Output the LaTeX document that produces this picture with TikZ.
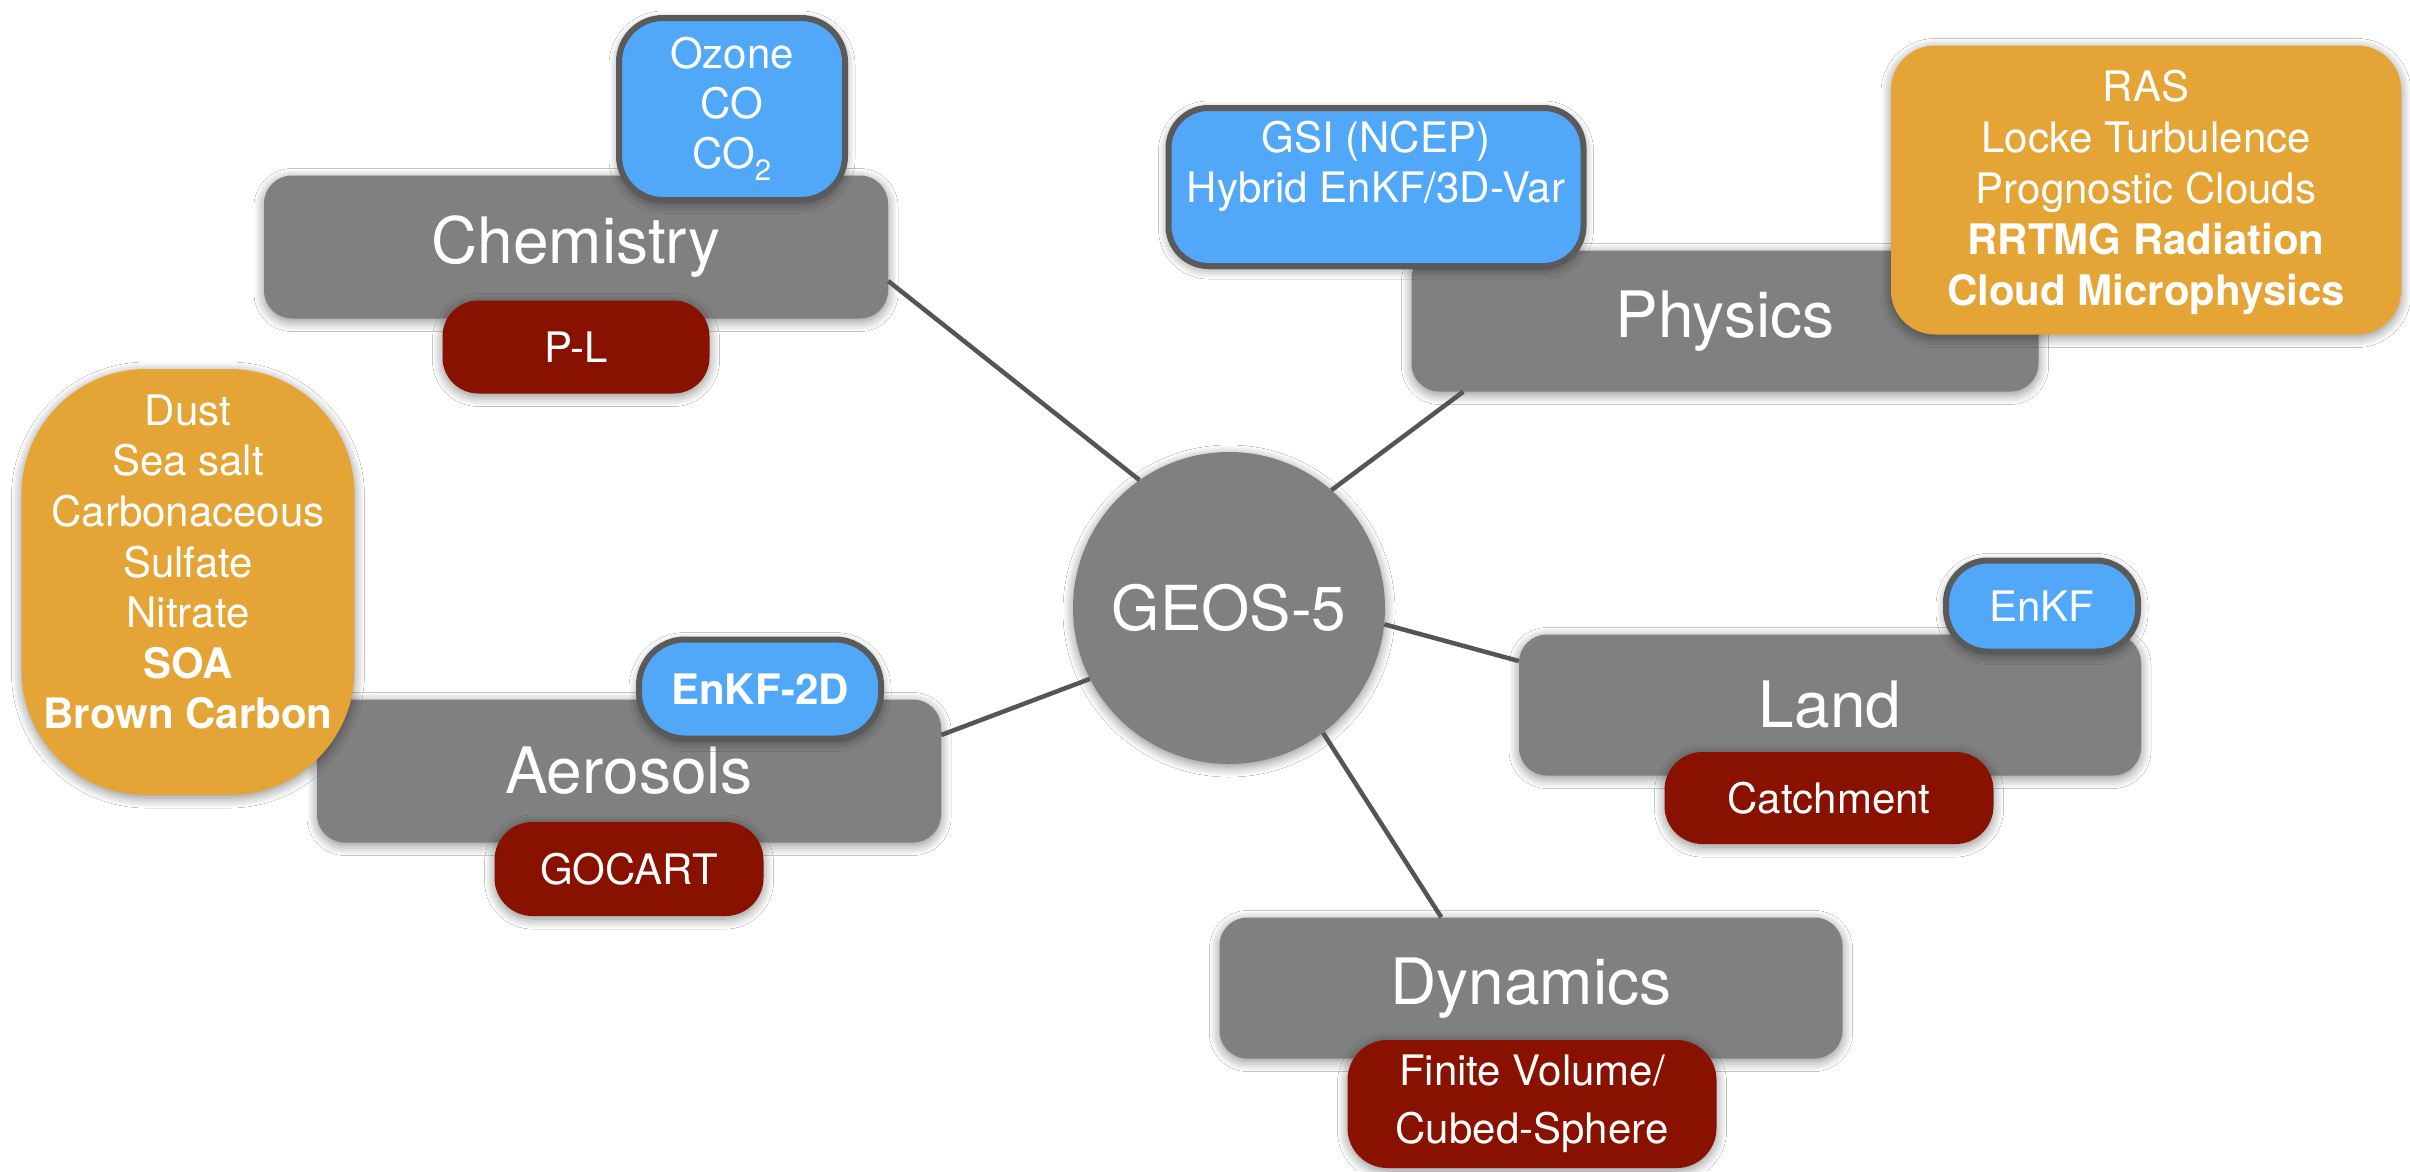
\documentclass[tikz,border=0pt]{standalone}
\usepackage{fontspec}
\setmainfont{TeX Gyre Heros}
\usetikzlibrary{shadows.blur}
\definecolor{boxgray}{HTML}{808080}
\definecolor{skyblue}{HTML}{52A8F8}
\definecolor{darkred}{HTML}{881100}
\definecolor{amber}{HTML}{E5A536}
\definecolor{edgegray}{HTML}{5A5A5A}
\definecolor{linkgray}{HTML}{555555}
\tikzset{
  softshadow/.style={blur shadow={shadow blur steps=12, shadow blur radius=10pt, shadow xshift=0pt, shadow yshift=-3pt, shadow opacity=45}},
  module/.style={rectangle, rounded corners=28pt, fill=boxgray, text=white, inner sep=0pt, font=\fontsize{64}{72}\selectfont, softshadow},
  pill/.style={rectangle, text=white, inner sep=0pt, align=center, font=\fontsize{42}{50}\selectfont, softshadow},
  bluepill/.style={pill, fill=skyblue, draw=edgegray, line width=6pt},
  redpill/.style={pill, fill=darkred},
  amberpill/.style={pill, fill=amber},
  txt/.style={text=white, inner sep=0pt, align=center, font=\fontsize{42}{50}\selectfont},
  link/.style={draw=linkgray, line width=4.5pt}
}
\begin{document}
\begin{tikzpicture}[x=1pt,y=-1pt]
\useasboundingbox[fill=white] (0,0) rectangle (2410,1171);

% hub
\node[circle, fill=boxgray, text=white, inner sep=0pt, minimum size=312pt, font=\fontsize{62}{70}\selectfont, softshadow] (geos) at (1229,608) {GEOS-5};

% modules
\node[module, minimum width=624pt, minimum height=143pt] (chem) at (576,247) {Chemistry};
\node[module, minimum width=627pt, minimum height=141pt] (phys) at (1725,321) {Physics};
\node[module, minimum width=624pt, minimum height=143pt] (aero) at (629,771) {Aerosols};
\node[module, minimum width=622pt, minimum height=141pt] (land) at (1830,705) {Land};
\node[module, minimum width=623pt, minimum height=141pt] (dyn) at (1531,988) {Dynamics};

% connectors
\draw[link] ([yshift=-34pt]chem.east) -- (geos.125);
\draw[link] ([xshift=52pt]phys.south west) -- (geos.49);
\draw[link] ([yshift=36pt]aero.east) -- (geos.207);
\draw[link] ([yshift=44pt]land.west) -- (geos.354);
\draw[link] ([xshift=222pt]dyn.north west) -- (geos.307);

% chemistry
\node[bluepill, rounded corners=44pt, minimum width=226pt, minimum height=182pt] (ozone) at (732,109) {Ozone\\CO\\CO\textsubscript{2}};
\node[redpill, rounded corners=36pt, minimum width=267pt, minimum height=93pt] (pl) at (576,347) {P-L};

% physics
\node[bluepill, rounded corners=40pt, minimum width=415pt, minimum height=158pt] (gsi) at (1376,187) {};
\node[txt] (gsitext) at (1376,166) {GSI (NCEP)\\Hybrid EnKF/3D-Var};
\node[amberpill, rounded corners=44pt, minimum width=510pt, minimum height=289pt] (physlist) at (2146,190) {};
\node[txt, font=\fontsize{42}{51}\selectfont] (physlisttext) at (2146,192) {RAS\\Locke Turbulence\\Prognostic Clouds\\\textbf{RRTMG Radiation}\\\textbf{Cloud Microphysics}};

% aerosols
\node[amberpill, rounded corners=125pt, minimum width=333pt, minimum height=426pt] (aerolist) at (188,582) {};
\node[txt, font=\fontsize{42}{50.6}\selectfont] (aerolisttext) at (188,562) {Dust\\Sea salt\\Carbonaceous\\Sulfate\\Nitrate\\\textbf{SOA}\\\textbf{Brown Carbon}};
\node[bluepill, rounded corners=46pt, minimum width=242pt, minimum height=99pt, font=\fontsize{42}{50}\bfseries] (enkfaero) at (760,689) {EnKF-2D};
\node[redpill, rounded corners=38pt, minimum width=269pt, minimum height=94pt] (gocart) at (629,869) {GOCART};

% land
\node[bluepill, rounded corners=42pt, minimum width=192pt, minimum height=91pt] (enkfland) at (2042,606) {EnKF};
\node[redpill, rounded corners=38pt, minimum width=329pt, minimum height=92pt] (catch) at (1829,798) {Catchment};

% dynamics
\node[redpill, rounded corners=40pt, minimum width=369pt, minimum height=128pt, font=\fontsize{42}{58}\selectfont] (fv) at (1532,1104) {Finite Volume/\\Cubed-Sphere};
\end{tikzpicture}
\end{document}
